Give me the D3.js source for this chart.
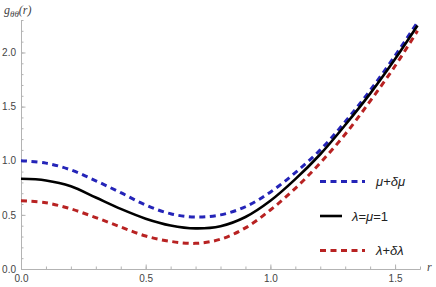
<!DOCTYPE html>
<html>
<head>
<meta charset="utf-8">
<script src="https://cdn.jsdelivr.net/npm/d3@7"></script>
<style>
  body { margin: 0; background: #fff; }
  .axis text { font-family: "Liberation Sans", Arial, sans-serif; font-size: 10px; fill: #444; }
  .axis path, .axis line { stroke: #b3b3b3; }
</style>
</head>
<body>
<svg id="chart" width="436" height="287"></svg>
<script>
/* ---------------------- Data ---------------------- */
var rValues   = [0, 0.1, 0.2, 0.3, 0.4, 0.5, 0.6, 0.7, 0.8, 0.9, 1.0, 1.1, 1.2, 1.3, 1.4, 1.5, 1.59];
var baseVals  = [0.833, 0.818, 0.765, 0.66, 0.555, 0.465, 0.402, 0.375, 0.395, 0.48, 0.63, 0.83, 1.06, 1.33, 1.62, 1.94, 2.25];
var muVals    = [1.0, 0.978, 0.915, 0.815, 0.705, 0.59, 0.51, 0.48, 0.50, 0.575, 0.71, 0.89, 1.10, 1.36, 1.65, 1.97, 2.28];
var lamVals   = [0.63, 0.612, 0.555, 0.475, 0.388, 0.305, 0.255, 0.237, 0.275, 0.38, 0.545, 0.745, 0.98, 1.245, 1.55, 1.875, 2.20];
var xTicks    = [0, 0.5, 1.0, 1.5];
var yTicks    = [0, 0.5, 1.0, 1.5, 2.0];

var colors = {mu: "#2424b8", base: "#000000", lam: "#b82222"};

/* ---------------------- Chart ---------------------- */
var svg = d3.select("#chart");

var xScale = d3.scaleLinear().domain([0, 1.6]).range([21, 420]);
var yScale = d3.scaleLinear().domain([0, 2.3]).range([269, 20]);

var minorX = d3.range(0, 1.61, 0.1).map(d => +d.toFixed(1));
var minorY = d3.range(0, 2.31, 0.1).map(d => +d.toFixed(1));

// minor ticks (inside the frame)
svg.append("g")
    .attr("class", "axis")
    .attr("transform", "translate(0,269)")
    .call(d3.axisBottom(xScale).tickValues(minorX).tickSize(-2.5).tickSizeOuter(0).tickFormat(""));
svg.append("g")
    .attr("class", "axis")
    .attr("transform", "translate(21,0)")
    .call(d3.axisLeft(yScale).tickValues(minorY).tickSize(-2.5).tickSizeOuter(0).tickFormat(""));

// major ticks with labels
svg.append("g")
    .attr("class", "axis")
    .attr("transform", "translate(0,269)")
    .call(d3.axisBottom(xScale).tickValues(xTicks).tickSize(-4.5).tickSizeOuter(0).tickPadding(6).tickFormat(d3.format(".1f")));
svg.append("g")
    .attr("class", "axis")
    .attr("transform", "translate(21,0)")
    .call(d3.axisLeft(yScale).tickValues(yTicks).tickSize(-4.5).tickSizeOuter(0).tickPadding(5).tickFormat(d3.format(".1f")));

// axis labels
var yLab = svg.append("text")
    .attr("x", 4).attr("y", 14)
    .style("font-family", "'Liberation Serif', 'Times New Roman', serif")
    .style("font-size", "12px").style("font-style", "italic").attr("fill", "#444");
yLab.append("tspan").text("g");
yLab.append("tspan").attr("dy", 3).style("font-size", "9px").text("θθ");
yLab.append("tspan").attr("dy", -3).text("(r)");

svg.append("text")
    .attr("x", 427).attr("y", 271)
    .style("font-family", "'Liberation Serif', 'Times New Roman', serif")
    .style("font-size", "12px").style("font-style", "italic").attr("fill", "#444")
    .text("r");

// curves
var series = [
    {key: "mu", vals: muVals, color: colors.mu, dash: "6,4.5", width: 3},
    {key: "lam", vals: lamVals, color: colors.lam, dash: "6,4.5", width: 3},
    {key: "base", vals: baseVals, color: colors.base, dash: null, width: 2.6}
];

var line = d3.line()
    .x(d => xScale(d[0]))
    .y(d => yScale(d[1]))
    .curve(d3.curveCatmullRom.alpha(0.5));

svg.append("g").selectAll("path")
    .data(series)
    .enter()
    .append("path")
    .attr("d", s => line(rValues.map((r, i) => [r, s.vals[i]])))
    .attr("fill", "none")
    .attr("stroke", s => s.color)
    .attr("stroke-width", s => s.width)
    .attr("stroke-dasharray", s => s.dash);

// legend
var legend = [
    {parts: [["μ", true], ["+", false], ["δμ", true]], color: colors.mu, dash: "6,4.5", x2: 365, tx: 376, y: 181.5},
    {parts: [["λ", true], ["=", false], ["μ", true], ["=1", false]], color: colors.base, dash: null, x2: 342, tx: 352, y: 216},
    {parts: [["λ", true], ["+", false], ["δλ", true]], color: colors.lam, dash: "6,4.5", x2: 365, tx: 376, y: 250.5}
];

var lg = svg.append("g").selectAll("g")
    .data(legend)
    .enter()
    .append("g");

lg.append("line")
    .attr("x1", 320).attr("x2", d => d.x2)
    .attr("y1", d => d.y).attr("y2", d => d.y)
    .attr("stroke", d => d.color)
    .attr("stroke-width", d => d.dash ? 3 : 2.6)
    .attr("stroke-dasharray", d => d.dash);

var lt = lg.append("text")
    .attr("x", d => d.tx).attr("y", d => d.y + 4.5)
    .style("font-family", "'Liberation Sans', Arial, sans-serif")
    .style("font-size", "13px").attr("fill", "#222");

lt.selectAll("tspan")
    .data(d => d.parts)
    .enter()
    .append("tspan")
    .style("font-style", p => p[1] ? "italic" : "normal")
    .text(p => p[0]);
</script>
</body>
</html>
